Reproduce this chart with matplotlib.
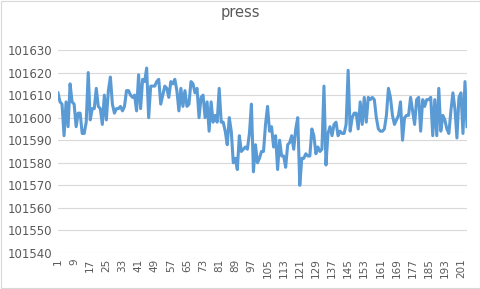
import matplotlib
matplotlib.use("Agg")
import matplotlib.pyplot as plt
from matplotlib.patches import Rectangle

TITLE = "press"

press = [
    101611, 101607, 101606, 101592, 101607, 101596, 101615, 101607, 101606, 101596,
    101602, 101602, 101593, 101593, 101598, 101620, 101599, 101604, 101604, 101613,
    101605, 101604, 101597, 101610, 101599, 101612, 101618, 101606, 101602, 101604,
    101604, 101605, 101603, 101605, 101612, 101612, 101610, 101609, 101610, 101603,
    101619, 101604, 101617, 101616, 101622, 101600, 101614, 101614, 101614, 101616,
    101617, 101606, 101610, 101614, 101613, 101609, 101616, 101615, 101617, 101612,
    101603, 101613, 101605, 101612, 101605, 101606, 101616, 101615, 101611, 101613,
    101600, 101609, 101610, 101600, 101607, 101594, 101607, 101598, 101601, 101598,
    101613, 101598, 101598, 101594, 101588, 101600, 101594, 101580, 101582, 101577,
    101592, 101585, 101586, 101587, 101586, 101593, 101606, 101576, 101588, 101580,
    101582, 101585, 101585, 101597, 101605, 101594, 101596, 101587, 101592, 101577,
    101590, 101583, 101583, 101578, 101588, 101589, 101592, 101586, 101595, 101600,
    101570, 101582, 101582, 101584, 101583, 101583, 101595, 101592, 101584, 101587,
    101585, 101586, 101614, 101579, 101593, 101596, 101592, 101597, 101598, 101592,
    101594, 101593, 101593, 101597, 101621, 101594, 101600, 101602, 101602, 101595,
    101607, 101597, 101609, 101598, 101609, 101608, 101609, 101608, 101600, 101595,
    101594, 101594, 101595, 101601, 101613, 101609, 101601, 101597, 101599, 101601,
    101607, 101590, 101600, 101601, 101601, 101609, 101603, 101597, 101608, 101609,
    101594, 101608, 101605, 101608, 101608, 101609, 101592, 101608, 101592, 101613,
    101594, 101601, 101599, 101595, 101593, 101603, 101611, 101604, 101591, 101609,
    101611, 101593, 101616, 101596,
]
x = list(range(1, len(press) + 1))
xticks = list(range(1, len(press) + 1, 8))
yticks = list(range(101540, 101631, 10))

fig = plt.figure(figsize=(4.81, 2.89), dpi=100)
fig.patches.append(Rectangle((0.002, 0.003), 0.995, 0.994, transform=fig.transFigure,
                             fill=False, edgecolor="#d9d9d9", linewidth=0.8))
ax = fig.add_axes([58 / 481, 1 - 253 / 289, (467 - 58) / 481, (253 - 50) / 289])

ax.plot(x, press, color="#5b9bd5", linewidth=2.2, solid_joinstyle="round", zorder=3)

ax.set_xlim(1, len(press))
ax.set_ylim(101540, 101630)
ax.set_yticks(yticks)
ax.set_xticks(xticks)
ax.set_xticklabels([str(t) for t in xticks], rotation=90, fontsize=7.5, color="#595959")
ax.set_yticklabels([str(t) for t in yticks], fontsize=8.5, color="#595959")
ax.tick_params(length=0, pad=4)
ax.grid(axis="y", color="#d9d9d9", linewidth=0.8, zorder=0)
for s in ax.spines.values():
    s.set_visible(False)

fig.text(0.5, 1 - 13 / 289, TITLE, ha="center", va="center", fontsize=10.5, color="#595959")

fig.savefig("out.png", dpi=100)
